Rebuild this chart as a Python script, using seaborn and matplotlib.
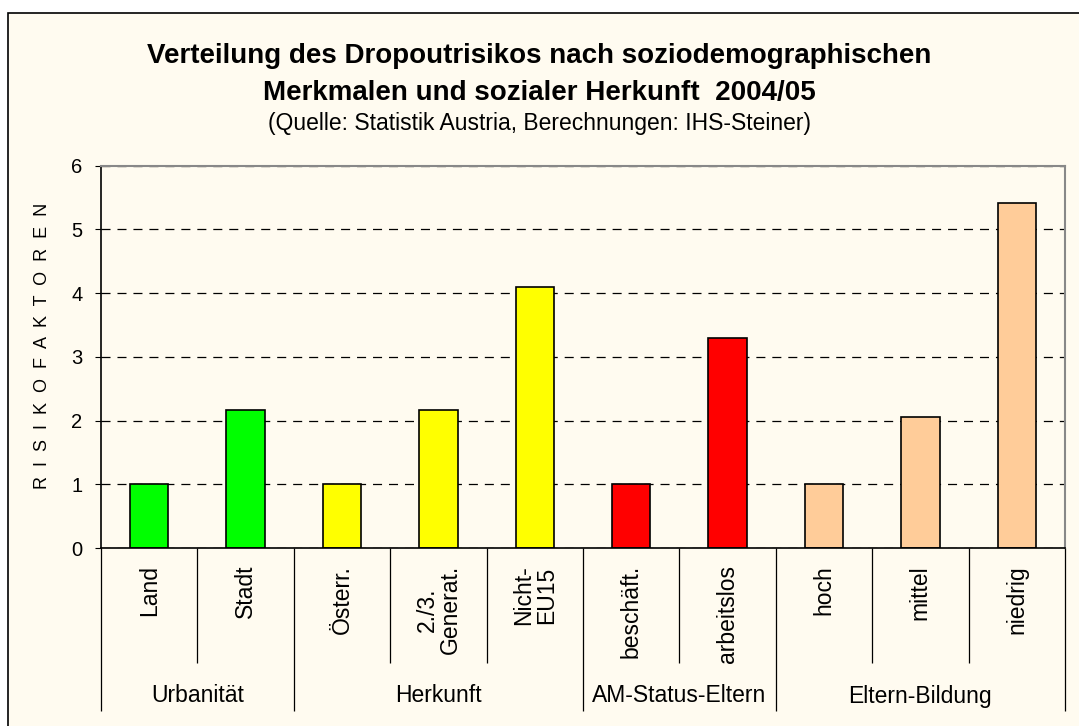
import matplotlib
matplotlib.use("Agg")
import matplotlib.pyplot as plt
import seaborn as sns
import pandas as pd
from matplotlib.patches import Rectangle

# ---- data ----
categories = ["Land", "Stadt", "Österr.", "2./3.\nGenerat.", "Nicht-\nEU15",
              "beschäft.", "arbeitslos", "hoch", "mittel", "niedrig"]
values = [1.0, 2.17, 1.0, 2.17, 4.10, 1.0, 3.29, 1.0, 2.06, 5.41]
groups = ["Urbanität", "Herkunft", "AM-Status-Eltern", "Eltern-Bildung"]
group_sizes = [2, 3, 2, 3]
group_colors = ["#00FF00", "#FFFF00", "#FF0000", "#FFCC99"]
y_ticks = [0, 1, 2, 3, 4, 5, 6]

title_line1 = "Verteilung des Dropoutrisikos nach soziodemographischen"
title_line2 = "Merkmalen und sozialer Herkunft  2004/05"
subtitle = "(Quelle: Statistik Austria, Berechnungen: IHS-Steiner)"
ylabel = "R  I  S  I  K  O  F  A  K  T  O  R  E  N"

# ---- build table ----
cat_group = []
for g, n in zip(groups, group_sizes):
    cat_group += [g] * n
df = pd.DataFrame({"cat": categories, "value": values, "group": cat_group})
palette = {}
for c, g in zip(categories, cat_group):
    palette[c] = group_colors[groups.index(g)]

CREAM = "#FFFBF0"
sns.set_style("white")
plt.rcParams["font.family"] = ["Liberation Sans", "DejaVu Sans"]
plt.rcParams["lines.scale_dashes"] = False
plt.rcParams["text.color"] = "black"
plt.rcParams["axes.labelcolor"] = "black"
plt.rcParams["xtick.color"] = "black"
plt.rcParams["ytick.color"] = "black"

W, H = 1079, 726
fig = plt.figure(figsize=(W / 100, H / 100), dpi=100)
fig.patch.set_facecolor("white")
fig.add_artist(Rectangle((8 / W, -0.1), 1.2, (H - 13) / H + 0.1,
                         transform=fig.transFigure, facecolor=CREAM,
                         edgecolor="black", linewidth=1.2, zorder=-5))

left, right, top, bottom = 101, 1065, 165.7, 548
ax = fig.add_axes([left / W, 1 - bottom / H, (right - left) / W, (bottom - top) / H])
ax.set_facecolor(CREAM)

sns.barplot(data=df, x="cat", y="value", hue="cat", palette=palette,
            legend=False, width=0.4, edgecolor="black", linewidth=1.2,
            saturation=1, ax=ax)

ax.set_xlim(-0.5, len(categories) - 0.5)
ax.set_ylim(0, 6)
ax.set_yticks(y_ticks)
ax.set_yticklabels([str(t) for t in y_ticks], fontsize=14.5, color="black")
ax.tick_params(axis="y", length=4.5, width=0.8, color="black", pad=9, left=True)
ax.set_xticks([])
ax.set_xlabel("")
ax.set_ylabel("")
ax.set_axisbelow(True)
ax.yaxis.grid(True, color="black", linestyle=(0, (6.5, 5)), linewidth=0.9)
ax.xaxis.grid(False)

for s in ["left", "bottom"]:
    ax.spines[s].set_color("black")
    ax.spines[s].set_linewidth(1.2)
for s in ["top", "right"]:
    ax.spines[s].set_visible(True)
    ax.spines[s].set_color("#888888")
    ax.spines[s].set_linewidth(1.5)

tr = ax.get_xaxis_transform()
inner_y = -(663 - bottom) / (bottom - top)
outer_y = -(711 - bottom) / (bottom - top)
label_top = -(565 - bottom) / (bottom - top)
group_y = -(696 - bottom) / (bottom - top)

# category labels
for i, c in enumerate(categories):
    ax.text(i, label_top, c, transform=tr, rotation=90, ha="center", va="top",
            multialignment="center", fontsize=16.5, linespacing=1.0)

# separators
boundaries = [-0.5]
pos = -0.5
for n in group_sizes:
    pos += n
    boundaries.append(pos)
for b in range(len(categories) + 1):
    x = b - 0.5
    y_end = outer_y if x in boundaries else inner_y
    ax.plot([x, x], [0, y_end], transform=tr, color="black", linewidth=0.9,
            clip_on=False, solid_capstyle="butt")

# group labels
start = 0
for g, n in zip(groups, group_sizes):
    center = start + (n - 1) / 2
    ax.text(center, group_y, g, transform=tr, ha="center", va="center", fontsize=16.5)
    start += n

# titles
fig.text(0.5, 1 - 62.7 / H, title_line1, ha="center", va="baseline",
         fontsize=20, fontweight="bold")
fig.text(0.5, 1 - 100 / H, title_line2, ha="center", va="baseline",
         fontsize=20, fontweight="bold")
fig.text(0.5, 1 - 130 / H, subtitle, ha="center", va="baseline", fontsize=16.5)
fig.text(43 / W, 1 - 346 / H, ylabel, rotation=90, ha="center", va="center",
         fontsize=13)

fig.savefig("out.png", dpi=100, facecolor=fig.get_facecolor())
